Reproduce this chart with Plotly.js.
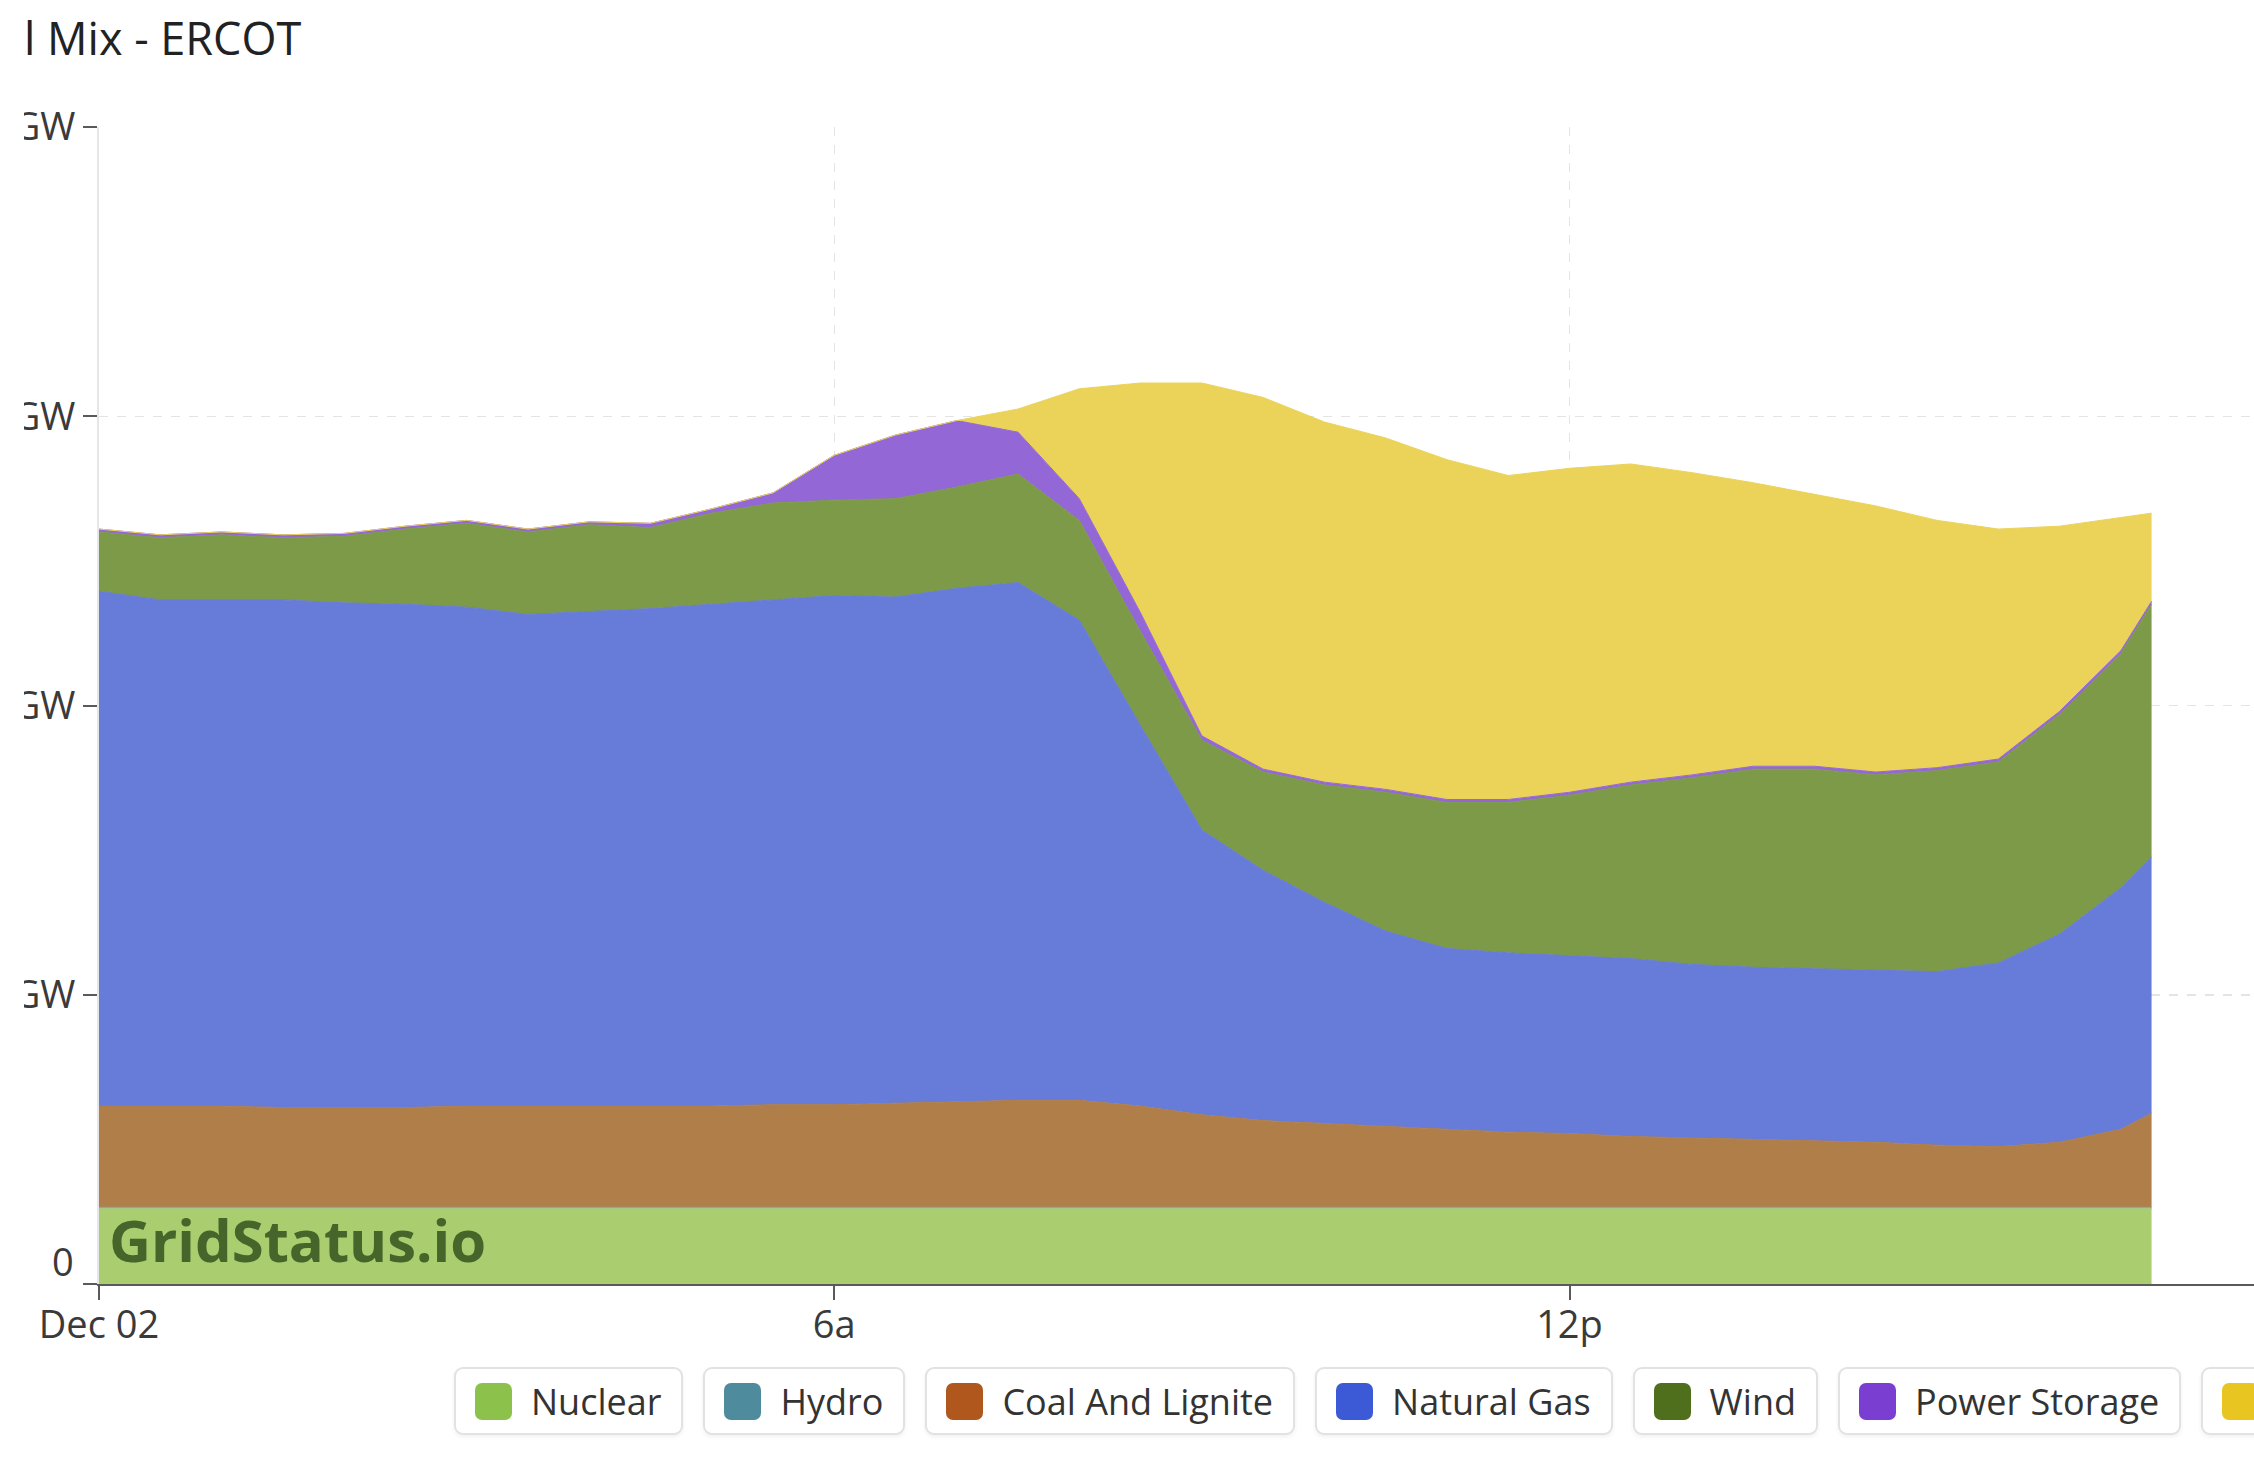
<!DOCTYPE html>
<html>
<head>
<meta charset="utf-8">
<script src="https://cdn.plot.ly/plotly-3.0.1.min.js"></script>
<style>
    html, body { margin: 0; padding: 0; background: #fff; width: 2254px; height: 1478px; overflow: hidden; }
    #frame { position: absolute; left: 24px; top: 0; width: 2230px; height: 1478px; overflow: hidden; }
    #chart { position: absolute; left: -100px; top: 0; width: 3136px; height: 1478px; }
    #title {
        position: absolute; left: 0; top: 8px; white-space: nowrap;
        font-family: 'Open Sans', sans-serif; font-size: 45px; line-height: 60px; color: #222;
    }
    #title .cut { position: absolute; right: 100%; }
    #legend {
        position: absolute; left: 430px; top: 1367px;
        display: flex; gap: 20px; white-space: nowrap;
        font-family: 'Open Sans', sans-serif; font-size: 36px; color: #333;
    }
    .leg-item {
        display: flex; align-items: center; height: 64px; padding: 0 20px 0 19px;
        border: 2px solid #e2e2e2; border-radius: 9px; background: #fff;
        box-shadow: 0 2px 4px rgba(0,0,0,0.06);
    }
    .leg-item .sw { width: 37px; height: 37px; border-radius: 7px; margin-right: 19px; }
</style>
</head>
<body>
<div id="frame">
    <div id="chart"></div>
    <div id="title"><span class="cut">Fue</span>l Mix - ERCOT</div>
    <div id="legend"></div>
</div>
<script>
// 30-minute samples (GW)
const times = [
    '2023-12-02 00:00', '2023-12-02 00:30', '2023-12-02 01:00', '2023-12-02 01:30',
    '2023-12-02 02:00', '2023-12-02 02:30', '2023-12-02 03:00', '2023-12-02 03:30',
    '2023-12-02 04:00', '2023-12-02 04:30', '2023-12-02 05:00', '2023-12-02 05:30',
    '2023-12-02 06:00', '2023-12-02 06:30', '2023-12-02 07:00', '2023-12-02 07:30',
    '2023-12-02 08:00', '2023-12-02 08:30', '2023-12-02 09:00', '2023-12-02 09:30',
    '2023-12-02 10:00', '2023-12-02 10:30', '2023-12-02 11:00', '2023-12-02 11:30',
    '2023-12-02 12:00', '2023-12-02 12:30', '2023-12-02 13:00', '2023-12-02 13:30',
    '2023-12-02 14:00', '2023-12-02 14:30', '2023-12-02 15:00', '2023-12-02 15:30',
    '2023-12-02 16:00', '2023-12-02 16:30', '2023-12-02 16:45'
];

const nuclear = [5.2, 5.2, 5.2, 5.2, 5.2, 5.2, 5.2, 5.2, 5.2, 5.2, 5.2, 5.2, 5.2, 5.2, 5.2, 5.2, 5.2, 5.2,
                 5.2, 5.2, 5.2, 5.2, 5.2, 5.2, 5.2, 5.2, 5.2, 5.2, 5.2, 5.2, 5.2, 5.2, 5.2, 5.2, 5.2];
const hydro = [0.1, 0.1, 0.1, 0.1, 0.1, 0.1, 0.1, 0.1, 0.1, 0.1, 0.1, 0.1, 0.1, 0.1, 0.1, 0.1, 0.1, 0.1,
               0.1, 0.1, 0.1, 0.1, 0.1, 0.1, 0.1, 0.1, 0.1, 0.1, 0.1, 0.1, 0.1, 0.1, 0.1, 0.1, 0.1];
const coal = [7.0, 7.0, 7.0, 6.9, 6.9, 6.9, 7.0, 7.0, 7.0, 7.0, 7.0, 7.1, 7.1, 7.2, 7.3, 7.4, 7.4, 7.0,
              6.4, 6.0, 5.8, 5.6, 5.4, 5.2, 5.1, 4.9, 4.8, 4.7, 4.6, 4.5, 4.3, 4.2, 4.5, 5.4, 6.5];
const gas = [35.6, 35.0, 35.0, 35.1, 34.9, 34.8, 34.5, 34.0, 34.2, 34.4, 34.7, 34.9, 35.2, 35.0, 35.5, 35.8,
             33.2, 26.3, 19.7, 17.3, 15.3, 13.5, 12.5, 12.4, 12.3, 12.3, 12.0, 11.9, 11.9, 11.9, 12.0, 12.7,
             14.4, 16.7, 17.7];
const wind = [4.1, 4.3, 4.5, 4.3, 4.6, 5.2, 5.8, 5.7, 6.0, 5.6, 6.3, 6.7, 6.6, 6.8, 7.0, 7.5, 6.9, 6.5,
              6.2, 6.8, 8.1, 9.6, 10.1, 10.4, 11.1, 12.0, 12.9, 13.7, 13.8, 13.5, 13.9, 13.9, 15.2, 16.2, 17.5];
const storage = [0.2, 0.2, 0.2, 0.2, 0.2, 0.2, 0.2, 0.2, 0.2, 0.3, 0.3, 0.7, 3.1, 4.4, 4.6, 2.9, 1.5, 1.3,
                 0.3, 0.2, 0.2, 0.2, 0.2, 0.2, 0.2, 0.2, 0.2, 0.2, 0.2, 0.2, 0.2, 0.2, 0.2, 0.2, 0.2];
const solar = [0, 0, 0, 0, 0, 0, 0, 0, 0, 0, 0, 0, 0, 0, 0, 1.6, 7.6, 15.9,
               24.4, 25.7, 24.9, 24.3, 23.5, 22.4, 22.4, 22.0, 20.9, 19.6, 18.8, 18.4, 17.1, 15.9, 12.8, 9.2, 6.1];

const fuelNames = ['Nuclear', 'Hydro', 'Coal And Lignite', 'Natural Gas', 'Wind', 'Power Storage', 'Solar'];

const xTickVals = ['2023-12-02 00:00', '2023-12-02 06:00', '2023-12-02 12:00', '2023-12-02 18:00', '2023-12-03 00:00'];
const xTickText = ['Dec 02', '6a', '12p', '6p', 'Dec 03'];
const yTickVals = [0, 20, 40, 60, 80];
const yTickText = ['', '20 GW', '40 GW', '60 GW', '80 GW'];

// swatch colours (legend) and the lighter fills used in the plot
const SWATCH = ['#8cc14c', '#4e8b9c', '#b0571e', '#3c5ad6', '#4f6f1c', '#7a3fd0', '#e8c520'];
const FILL = ['#a9cd6f', '#7aa9b6', '#b07e48', '#677bd8', '#7c9a48', '#9467d6', '#ebd35a'];

const series = [nuclear, hydro, coal, gas, wind, storage, solar];

const traces = series.map((vals, i) => ({
    x: times, y: vals, name: fuelNames[i],
    type: 'scatter', mode: 'lines', stackgroup: 'one',
    fillcolor: FILL[i],
    line: { color: FILL[i], width: 1 },
    hoverinfo: 'skip'
}));

const GRID = '#e4e4e4';
const TICK = '#5a5a5a';

const layout = {
    width: 3136, height: 1478,
    paper_bgcolor: '#fff', plot_bgcolor: '#fff',
    font: { family: 'Open Sans', size: 38, color: '#3a3a3a' },
    margin: { l: 175, r: 20, t: 127, b: 194 },
    showlegend: false,
    xaxis: {
        type: 'date', range: ['2023-12-02 00:00', '2023-12-03 00:00'],
        tickmode: 'array', tickvals: xTickVals, ticktext: xTickText,
        showgrid: true, gridcolor: GRID, griddash: 'dash', gridwidth: 1.5,
        showline: true, linecolor: TICK, linewidth: 2,
        ticks: 'outside', ticklen: 14, tickwidth: 2, tickcolor: TICK,
        ticklabelstandoff: -8,
        zeroline: false, fixedrange: true
    },
    yaxis: {
        range: [0, 80],
        tickmode: 'array', tickvals: yTickVals, ticktext: yTickText,
        showgrid: true, gridcolor: GRID, griddash: 'dash', gridwidth: 1.5,
        showline: true, linecolor: '#e6e6e6', linewidth: 2,
        ticks: 'outside', ticklen: 14, tickwidth: 2, tickcolor: TICK,
        ticklabelstandoff: 0,
        zeroline: false, fixedrange: true
    },
    annotations: [
        // zero label sits a little above the axis line
        { text: '0', xref: 'paper', x: 0, xanchor: 'right', xshift: -23,
          yref: 'y', y: 0, yanchor: 'middle', yshift: 23, showarrow: false,
          font: { size: 38, color: '#3a3a3a' } },
        { text: '<b>GridStatus.io</b>', xref: 'paper', x: 0, xanchor: 'left', xshift: 8,
          yref: 'y', y: 3.1, yanchor: 'middle', showarrow: false,
          font: { size: 58, color: '#46652a', family: 'Open Sans' } }
    ]
};

Plotly.newPlot('chart', traces, layout, { staticPlot: true, displayModeBar: false });

// legend chips
document.getElementById('legend').innerHTML = fuelNames.map((n, i) =>
    `<div class="leg-item"><span class="sw" style="background:${SWATCH[i]}"></span>${n}</div>`
).join('');
</script>
</body>
</html>
